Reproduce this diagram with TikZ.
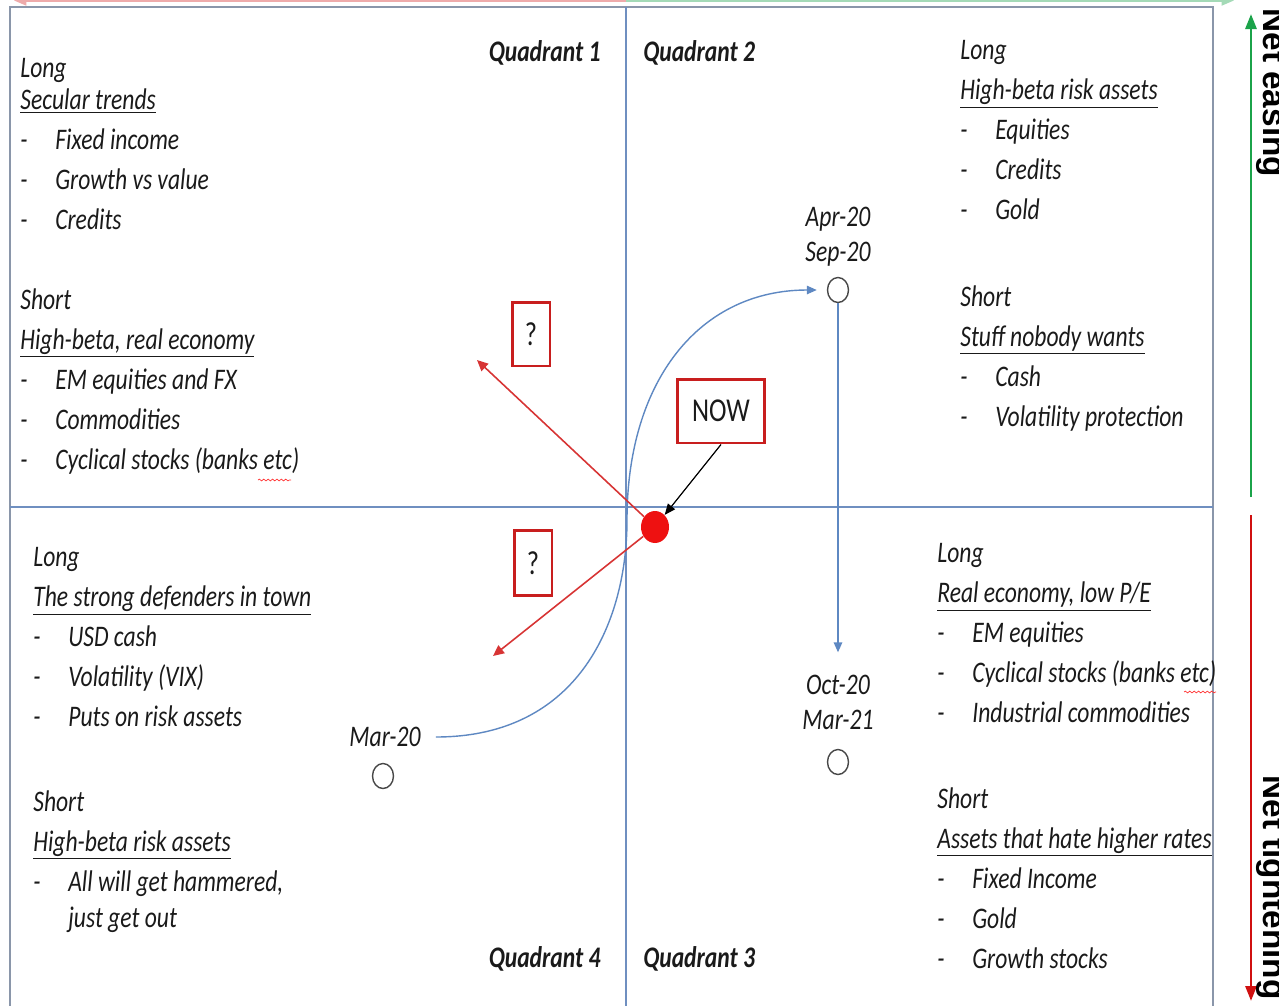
\documentclass[tikz,border=0pt]{standalone}
\usepackage{fontspec}
\setmainfont{Carlito}[FakeStretch=0.79]
\newfontfamily\sidefont{Liberation Sans}
\usetikzlibrary{arrows.meta,shapes.geometric,decorations.pathmorphing}

\definecolor{framegray}{HTML}{8A96AA}
\definecolor{axisblue}{HTML}{6F8FC0}
\definecolor{pathblue}{HTML}{5E88C2}
\definecolor{boxred}{HTML}{C81E1E}
\definecolor{dotred}{HTML}{EE1111}
\definecolor{easegreen}{HTML}{1BA34A}
\definecolor{tightred}{HTML}{D01010}
\definecolor{inkgray}{HTML}{1A1A1A}

\newcommand\itm{\makebox[0.7cm][l]{-}}

\tikzset{
  listtext/.style={align=left, anchor=north west, inner sep=0pt, text=inkgray,
    font=\fontsize{17}{22.8}\selectfont\itshape},
  quadlabel/.style={inner sep=0pt, text=inkgray, font=\fontsize{17}{20}\selectfont\bfseries\itshape},
  datetext/.style={align=center, inner sep=0pt, text=inkgray, font=\fontsize{17}{22.8}\selectfont\itshape},
  monthmark/.style={ellipse, draw=inkgray!80, line width=0.8pt, minimum width=0.42cm, minimum height=0.5cm, inner sep=0pt},
  nowdot/.style={ellipse, fill=dotred, minimum width=0.56cm, minimum height=0.64cm, inner sep=0pt},
  redbox/.style={draw=boxred, line width=1.7pt, inner sep=0pt, text=inkgray, font=\fontsize{19}{22}\selectfont},
  pathline/.style={draw=pathblue, line width=0.8pt, -{Triangle[length=0.2cm,width=0.17cm]}},
  redline/.style={draw=tightred!85, line width=0.9pt, -{Triangle[length=0.22cm,width=0.2cm]}},
  sidetext/.style={inner sep=0pt, rotate=-90, text=black, font=\fontsize{19}{22}\sidefont\bfseries},
  squiggle/.style={draw=red!80, line width=0.4pt, decorate, decoration={snake, amplitude=0.5pt, segment length=2.5pt}}
}

\begin{document}
\begin{tikzpicture}[x=0.02cm, y=-0.02cm]
\useasboundingbox (0,0) rectangle (1279,1005);

% frame and quadrant lines
\draw[framegray, line width=1.1pt] (10,7) rectangle (1213,1015);
\draw[axisblue, line width=0.8pt] (626,7) -- (626,1015);
\draw[axisblue, line width=0.8pt] (10,507) -- (1213,507);

% faint horizontal axis at the top edge
\coordinate (topmid) at (626,0.5);
\coordinate (topleft) at (14,0.5);
\coordinate (topright) at (1234,0.5);
\draw[tightred!35, line width=1.2pt, -{Triangle[length=0.25cm,width=0.2cm]}] (topmid) -- (topleft);
\draw[easegreen!40, line width=1.2pt, -{Triangle[length=0.25cm,width=0.2cm]}] (topmid) -- (topright);

% side axis
\coordinate (easefrom) at (1251,497);
\coordinate (easeto) at (1251,14);
\coordinate (tightfrom) at (1251,515);
\coordinate (tightto) at (1251,1001);
\draw[easegreen, line width=1.6pt, -{Triangle[length=0.3cm,width=0.22cm]}] (easefrom) -- (easeto);
\draw[tightred, line width=1.6pt, -{Triangle[length=0.3cm,width=0.22cm]}] (tightfrom) -- (tightto);
\node[sidetext, anchor=base west] (easing) at (1263,8) {Net easing};
\node[sidetext, anchor=base west] (tightening) at (1263,775) {Net tightening};

% quadrant 1
\node[quadlabel, anchor=base east] (quad1) at (601,61) {Quadrant 1};
\node[listtext] (q1long) at (20,58) {Long\\[-0.16cm]
  \underline{Secular trends}\\
  \itm Fixed income\\
  \itm Growth vs value\\
  \itm Credits};
\node[listtext] (q1short) at (20,288) {Short\\
  \underline{High-beta, real economy}\\
  \itm EM equities and FX\\
  \itm Commodities\\
  \itm Cyclical stocks (banks etc)};

% quadrant 2
\node[quadlabel, anchor=base west] (quad2) at (643,61) {Quadrant 2};
\node[listtext] (q2long) at (960,40) {Long\\
  \underline{High-beta risk assets}\\
  \itm Equities\\
  \itm Credits\\
  \itm Gold};
\node[listtext] (q2short) at (960,285) {Short\\
  \underline{Stuff nobody wants}\\
  \itm Cash\\
  \itm Volatility protection};

% quadrant 4
\node[quadlabel, anchor=base east] (quad4) at (601,967) {Quadrant 4};
\node[listtext] (q4long) at (33,547) {Long\\
  \underline{The strong defenders in town}\\
  \itm USD cash\\
  \itm Volatility (VIX)\\
  \itm Puts on risk assets};
\node[listtext] (q4short) at (33,790) {Short\\
  \underline{High-beta risk assets}\\
  \itm All will get hammered,\\[-0.08cm]
  \hspace*{0.7cm}just get out};

% quadrant 3
\node[quadlabel, anchor=base west] (quad3) at (643,967) {Quadrant 3};
\node[listtext] (q3long) at (937,543) {Long\\
  \underline{Real economy, low P/E}\\
  \itm EM equities\\
  \itm Cyclical stocks (banks etc)\\
  \itm Industrial commodities};
\node[listtext] (q3short) at (937,787) {Short\\
  \underline{Assets that hate higher rates}\\
  \itm Fixed Income\\
  \itm Gold\\
  \itm Growth stocks};

% spelling marks under "etc"
\draw[squiggle] (258,480) -- (291,480);
\draw[squiggle] (1184,692) -- (1216,692);

% path through the quadrants
\node[datetext] (mar20) at (385,737) {Mar-20};
\node[monthmark] (marmark) at (383,776) {};
\node[datetext] (aprsep) at (838,237) {Apr-20\\[-0.1cm]Sep-20};
\node[monthmark] (sepmark) at (838,290) {};
\node[datetext] (octmar) at (838,702) {Oct-20\\[-0.1cm]Mar-21};
\node[monthmark] (mar21mark) at (838,762) {};

\draw[pathline] ([xshift=0.3cm]mar20.east) .. controls (580,737) and (627,620) .. (627,520)
  .. controls (627,380) and (700,290) .. ([xshift=-0.2cm]sepmark.west);
\draw[pathline, shorten >=0.44cm] (sepmark.south) -- (octmar.north);

% now and the open directions
\node[nowdot] (dot) at (655,527) {};
\node[redbox, minimum width=1.74cm, minimum height=1.28cm] (nowbox) at (721,411) {NOW};
\node[redbox, minimum width=0.76cm, minimum height=1.28cm] (askup) at (531,334) {?};
\node[redbox, minimum width=0.76cm, minimum height=1.3cm] (askdown) at (533,563) {?};
\coordinate (uptip) at (477,360);
\coordinate (downtip) at (493,656);
\draw[redline] (dot) -- (uptip);
\draw[redline] (dot) -- (downtip);
\draw[black, line width=0.7pt, -{Triangle[length=0.22cm,width=0.18cm]}] (nowbox.south) -- (dot);
\end{tikzpicture}
\end{document}
